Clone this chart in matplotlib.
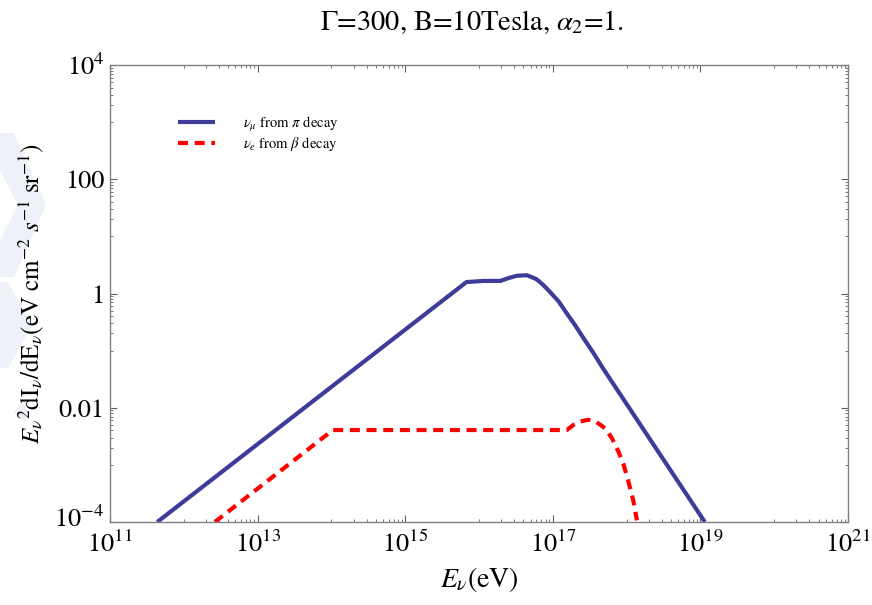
import numpy as np
import matplotlib
matplotlib.use('Agg')
import matplotlib.pyplot as plt
import matplotlib.transforms as mtransforms
from matplotlib.patches import Polygon
from matplotlib.ticker import FixedLocator, NullFormatter

plt.rcParams['font.family'] = ['STIXGeneral', 'DejaVu Serif']
plt.rcParams['mathtext.fontset'] = 'stix'

# values, as log10 (energy in eV, flux in eV cm^-2 s^-1 sr^-1)
numu_logE = [11.64, 15.83, 16.06, 16.29, 16.40, 16.51, 16.65, 16.78, 16.87, 16.96,
             17.08, 17.19, 17.30, 17.41, 17.55, 17.68, 19.06]
numu_logF = [-4.0, 0.20, 0.22, 0.22, 0.27, 0.31, 0.32, 0.25, 0.15, 0.03,
             -0.14, -0.35, -0.55, -0.77, -1.04, -1.31, -4.0]

nue_logE = [12.42, 14.02, 17.19, 17.28, 17.37, 17.48, 17.59, 17.71, 17.80, 17.89,
            17.96, 18.02, 18.09, 18.14]
nue_logF = [-4.0, -2.39, -2.39, -2.30, -2.24, -2.21, -2.25, -2.36, -2.53, -2.77,
            -3.00, -3.27, -3.62, -3.97]

x_major = [1e11, 1e13, 1e15, 1e17, 1e19, 1e21]
x_labels = [r'$10^{11}$', r'$10^{13}$', r'$10^{15}$', r'$10^{17}$', r'$10^{19}$', r'$10^{21}$']
y_major = [1e-4, 1e-2, 1, 1e2, 1e4]
y_labels = [r'$10^{-4}$', '0.01', '1', '100', r'$10^{4}$']

fig = plt.figure(figsize=(8.72, 6.05), dpi=100)
ax = fig.add_axes([110/872, 1-522/605, 738/872, 457/605])

# faint watermark chevrons on the left edge (behind everything)
wm = '#eef1f7'
for pts in [[(0, 133), (14, 133), (46, 205), (14, 277), (0, 277), (0, 240), (18, 205), (0, 170)],
            [(0, 282), (8, 282), (32, 325), (8, 368), (0, 368)],
            [(14, 412), (26, 400), (26, 424)]]:
    fig.patches.append(Polygon([(px/872, 1-py/605) for px, py in pts], closed=True,
                               transform=fig.transFigure, facecolor=wm, edgecolor='none', zorder=-5))

ax.plot(10**np.array(numu_logE), 10**np.array(numu_logF), color='#3d3d99', lw=3,
        solid_capstyle='butt', solid_joinstyle='round', label=r'$\nu_\mu$ from $\pi$ decay')
ax.plot(10**np.array(nue_logE), 10**np.array(nue_logF), color='#ff0000', lw=3,
        linestyle=(0, (2.4, 1.6)), dash_capstyle='butt', label=r'$\nu_e$ from $\beta$ decay')

ax.set_xscale('log')
ax.set_yscale('log')
ax.set_xlim(1e11, 1e21)
ax.set_ylim(1e-4, 1e4)

ax.xaxis.set_major_locator(FixedLocator(x_major))
ax.set_xticklabels(x_labels)
ax.yaxis.set_major_locator(FixedLocator(y_major))
ax.set_yticklabels(y_labels)
x_minor = [k * 10.0**e for e in [12, 14, 16, 18, 20] for k in range(1, 10)]
y_minor = [k * 10.0**e for e in [-3, -1, 1, 3] for k in range(1, 10)]
ax.xaxis.set_minor_locator(FixedLocator(x_minor))
ax.yaxis.set_minor_locator(FixedLocator(y_minor))
ax.xaxis.set_minor_formatter(NullFormatter())
ax.yaxis.set_minor_formatter(NullFormatter())

for s in ax.spines.values():
    s.set_color('#808080')
    s.set_linewidth(1)
ax.tick_params(which='both', direction='in', top=True, right=True, color='#606060',
               labelsize=19, labelcolor='black')
ax.tick_params(which='major', length=5, width=0.8)
ax.tick_params(axis='x', which='major', pad=7)
ax.tick_params(axis='y', which='major', pad=4)
ax.tick_params(which='minor', length=2.5, width=0.6)

# nudge the bottom y label up a little so it clears the 10^11 label
lab = ax.get_yticklabels()[0]
lab.set_transform(lab.get_transform() + mtransforms.ScaledTranslation(0, 4/72, fig.dpi_scale_trans))

ax.set_xlabel(r'$E_\nu$(eV)', fontsize=20, labelpad=5)
ax.set_ylabel(r'$E_\nu{}^2\mathrm{dI}_\nu/\mathrm{dE}_\nu(\mathrm{eV\ cm}^{-2}\ s^{-1}\ \mathrm{sr}^{-1})$',
              fontsize=18, labelpad=6)

fig.text(472/872, 1-22/605, r'$\Gamma$=300, B=10Tesla, $\alpha_2$=1.', fontsize=20.5,
         ha='center', va='center')

ax.legend(loc='upper left', bbox_to_anchor=(0.075, 0.92), frameon=False, fontsize=10.5,
          handlelength=2.5, handletextpad=1.9, labelspacing=0.12)

fig.savefig('out.png', dpi=100)
